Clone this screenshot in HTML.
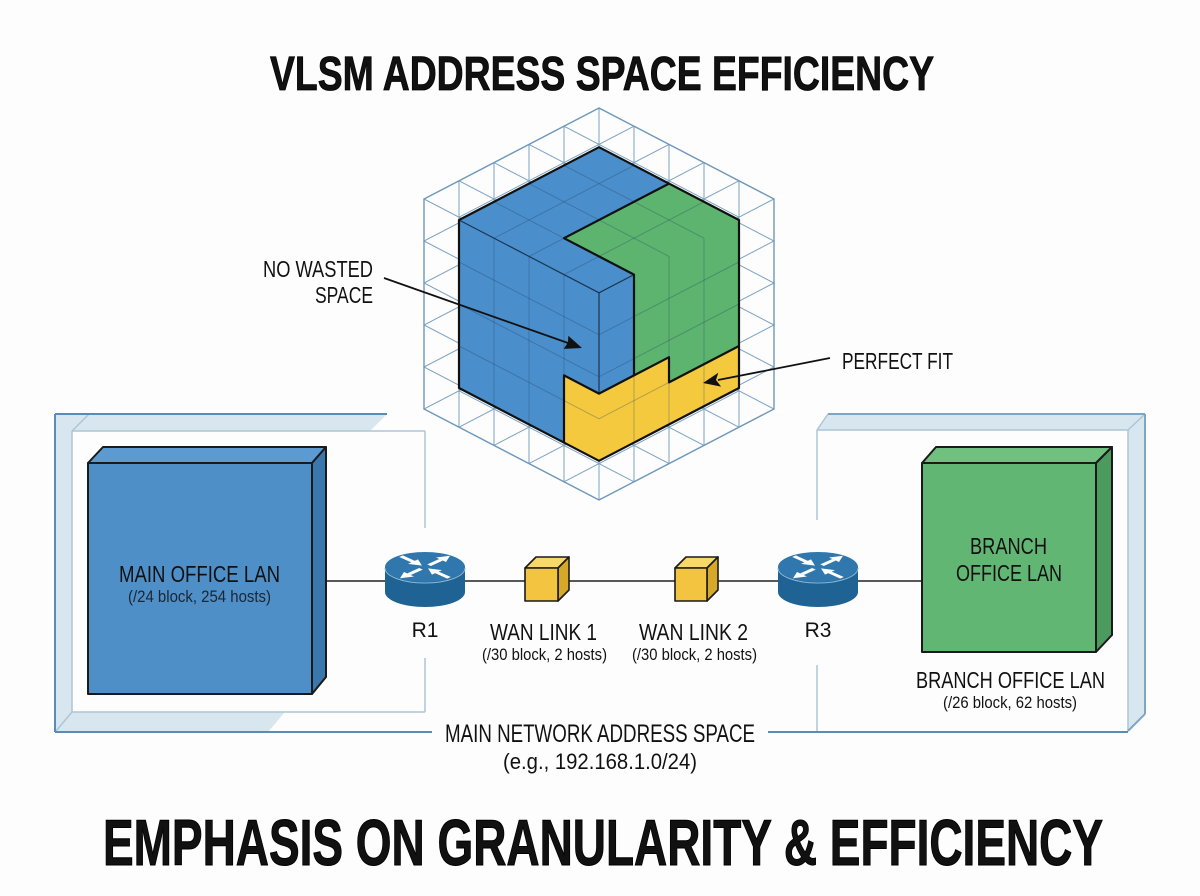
<!DOCTYPE html>
<html>
<head>
<meta charset="utf-8">
<style>
html,body{margin:0;padding:0;background:#fdfdfd;}
svg{display:block;}
text{font-family:"Liberation Sans",Arial,sans-serif;fill:#111;}
</style>
</head>
<body>
<svg width="1200" height="896" viewBox="0 0 1200 896" xmlns="http://www.w3.org/2000/svg">
<rect width="1200" height="896" fill="#fdfdfd"/>

<!-- Title -->
<text x="270" y="90" font-size="48" font-weight="bold" textLength="664" lengthAdjust="spacingAndGlyphs" stroke="#000" stroke-width="0.8">VLSM ADDRESS SPACE EFFICIENCY</text>

<!-- ===== Outer wireframe cube ===== -->
<g stroke="#7ba2c2" stroke-width="1" fill="none">
  <polygon points="599,318 774,409 599,500 424,409"/>
  <polygon points="599,276 774,367 599,458 424,367"/>
  <polygon points="599,234 774,325 599,416 424,325"/>
  <polygon points="599,192 774,283 599,374 424,283"/>
  <polygon points="599,150 774,241 599,332 424,241"/>
  <polygon points="599,108 774,199 599,290 424,199"/>
  <!-- top face grid -->
  <line x1="634" y1="126.2" x2="459" y2="217.2"/>
  <line x1="669" y1="144.4" x2="494" y2="235.4"/>
  <line x1="704" y1="162.6" x2="529" y2="253.6"/>
  <line x1="739" y1="180.8" x2="564" y2="271.8"/>
  <line x1="564" y1="126.2" x2="739" y2="217.2"/>
  <line x1="529" y1="144.4" x2="704" y2="235.4"/>
  <line x1="494" y1="162.6" x2="669" y2="253.6"/>
  <line x1="459" y1="180.8" x2="634" y2="271.8"/>
  <!-- bottom face grid -->
  <line x1="634" y1="336.2" x2="459" y2="427.2"/>
  <line x1="669" y1="354.4" x2="494" y2="445.4"/>
  <line x1="704" y1="372.6" x2="529" y2="463.6"/>
  <line x1="739" y1="390.8" x2="564" y2="481.8"/>
  <line x1="564" y1="336.2" x2="739" y2="427.2"/>
  <line x1="529" y1="354.4" x2="704" y2="445.4"/>
  <line x1="494" y1="372.6" x2="669" y2="463.6"/>
  <line x1="459" y1="390.8" x2="634" y2="481.8"/>
  <!-- verticals -->
  <line x1="599" y1="108" x2="599" y2="318"/>
  <line x1="564" y1="126.2" x2="564" y2="336.2"/>
  <line x1="529" y1="144.4" x2="529" y2="354.4"/>
  <line x1="494" y1="162.6" x2="494" y2="372.6"/>
  <line x1="459" y1="180.8" x2="459" y2="390.8"/>
  <line x1="424" y1="199" x2="424" y2="409"/>
  <line x1="774" y1="199" x2="774" y2="409"/>
  <line x1="739" y1="217.2" x2="739" y2="427.2"/>
  <line x1="704" y1="235.4" x2="704" y2="445.4"/>
  <line x1="669" y1="253.6" x2="669" y2="463.6"/>
  <line x1="634" y1="271.8" x2="634" y2="481.8"/>
  <line x1="599" y1="290" x2="599" y2="500"/>
  <line x1="634" y1="126.2" x2="634" y2="336.2"/>
  <line x1="669" y1="144.4" x2="669" y2="354.4"/>
  <line x1="704" y1="162.6" x2="704" y2="372.6"/>
  <line x1="739" y1="180.8" x2="739" y2="390.8"/>
  <line x1="459" y1="217.2" x2="459" y2="427.2"/>
  <line x1="494" y1="235.4" x2="494" y2="445.4"/>
  <line x1="529" y1="253.6" x2="529" y2="463.6"/>
  <line x1="564" y1="271.8" x2="564" y2="481.8"/>
</g>
<polygon points="599,108 774,199 774,409 599,500 424,409 424,199" fill="none" stroke="#6f98ba" stroke-width="1.4"/>

<!-- ===== Inner solid cube ===== -->
<polygon points="599,147.2 739,220 739,388 599,460.8 459,388 459,220" fill="#4a8ecb"/>
<polygon points="669,183.6 739,220 739,346 669,382.4 669,357.2 634,375.4 634,274.6 564,238.2" fill="#5db46f"/>
<polygon points="564,375.4 599,393.6 634,375.4 669,357.2 669,382.4 739,346 739,388 599,460.8 564,442.6" fill="#f5c93e"/>
<!-- inner grid -->
<g stroke="#1e3f60" stroke-opacity="0.3" stroke-width="1" fill="none">
  <line x1="634" y1="165.4" x2="494" y2="238.2"/>
  <line x1="669" y1="183.6" x2="529" y2="256.4"/>
  <line x1="704" y1="201.8" x2="564" y2="274.6"/>
  <line x1="564" y1="165.4" x2="704" y2="238.2"/>
  <line x1="529" y1="183.6" x2="669" y2="256.4"/>
  <line x1="494" y1="201.8" x2="634" y2="274.6"/>
  <line x1="704" y1="238.2" x2="704" y2="406.2"/>
  <line x1="669" y1="256.4" x2="669" y2="424.4"/>
  <line x1="634" y1="274.6" x2="634" y2="442.6"/>
  <line x1="739" y1="346" x2="599" y2="418.8"/>
  <line x1="739" y1="304" x2="599" y2="376.8"/>
  <line x1="739" y1="262" x2="599" y2="334.8"/>
  <line x1="494" y1="238.2" x2="494" y2="406.2"/>
  <line x1="529" y1="256.4" x2="529" y2="424.4"/>
  <line x1="564" y1="274.6" x2="564" y2="442.6"/>
  <line x1="459" y1="346" x2="599" y2="418.8"/>
  <line x1="459" y1="304" x2="599" y2="376.8"/>
  <line x1="459" y1="262" x2="599" y2="334.8"/>
</g>
<!-- thin edges -->
<g stroke="#1a3550" stroke-width="1.2" fill="none">
  <polyline points="459,220 599,292.8 634,274.6"/>
  <line x1="599" y1="292.8" x2="599" y2="393.6"/>
</g>
<!-- thick outlines -->
<g stroke="#111" stroke-width="2.2" fill="none" stroke-linejoin="round">
  <polygon points="599,147.2 739,220 739,388 599,460.8 459,388 459,220"/>
  <polyline points="669,183.6 564,238.2 634,274.6 634,375.4"/>
  <polyline points="564,442.6 564,375.4 599,393.6 634,375.4 669,357.2 669,382.4 739,346"/>
</g>

<!-- Callouts -->
<text x="263" y="277" font-size="23" textLength="110" lengthAdjust="spacingAndGlyphs">NO WASTED</text>
<text x="315" y="303" font-size="23" textLength="58" lengthAdjust="spacingAndGlyphs">SPACE</text>
<line x1="384" y1="278" x2="568" y2="343" stroke="#111" stroke-width="1.8"/>
<polygon points="582,348 563.7,348.9 568,342.5 568.3,335.7" fill="#111"/>

<text x="842" y="369" font-size="23" textLength="111" lengthAdjust="spacingAndGlyphs">PERFECT FIT</text>
<line x1="830" y1="358" x2="718" y2="380" stroke="#111" stroke-width="1.8"/>
<polygon points="703,383 718.3,372.8 716,380 721.1,386.6" fill="#111"/>

<!-- ===== Left frame ===== -->
<polygon points="55,414 387,414 370,431 72,431 72,712 285,712 268,732 55,732" fill="#d8e6f0"/>
<g stroke="#aec5d6" stroke-width="1.5" fill="none">
  <line x1="72" y1="431" x2="425" y2="431"/>
  <line x1="72" y1="431" x2="72" y2="712"/>
  <line x1="72" y1="712" x2="425" y2="712"/>
  <line x1="425" y1="431" x2="425" y2="528"/>
  <line x1="425" y1="658" x2="425" y2="712"/>
  <line x1="72" y1="431" x2="89" y2="414"/>
  <line x1="72" y1="712" x2="56" y2="731"/>
</g>
<g stroke="#5a8db5" stroke-width="2" fill="none">
  <line x1="55" y1="414" x2="387" y2="414"/>
  <line x1="55" y1="414" x2="55" y2="732"/>
  <line x1="55" y1="732" x2="432" y2="732"/>
  <line x1="768" y1="732" x2="1128" y2="732"/>
</g>

<!-- ===== Right frame ===== -->
<polygon points="817,430 828,414 1145,414 1128,430" fill="#d8e6f0"/>
<polygon points="1128,430 1145,414 1145,714 1128,731" fill="#d8e6f0"/>
<g stroke="#aec5d6" stroke-width="1.5" fill="none">
  <line x1="817" y1="430" x2="1128" y2="430"/>
  <line x1="1128" y1="430" x2="1128" y2="731"/>
  <line x1="817" y1="430" x2="817" y2="520"/>
  <line x1="817" y1="665" x2="817" y2="731"/>
  <line x1="817" y1="430" x2="828" y2="414"/>
  <line x1="1128" y1="430" x2="1145" y2="414"/>
</g>
<g stroke="#7ea5c4" stroke-width="2" fill="none">
  <line x1="828" y1="414" x2="1145" y2="414"/>
  <line x1="1145" y1="414" x2="1145" y2="714"/>
  <line x1="1128" y1="731" x2="1145" y2="714"/>
</g>

<!-- connector line -->
<line x1="326" y1="581" x2="922" y2="581" stroke="#222" stroke-width="1.6"/>

<!-- Main office box -->
<g stroke="#1a1a1a" stroke-width="2" stroke-linejoin="round">
  <polygon points="88,463 103,447 326,447 312,463" fill="#5c9bd1"/>
  <polygon points="312,463 326,447 326,677 312,694" fill="#3a77ad"/>
  <rect x="88" y="463" width="224" height="231" fill="#4e8fc8"/>
</g>
<text x="119" y="582" font-size="23" textLength="161" lengthAdjust="spacingAndGlyphs">MAIN OFFICE LAN</text>
<text x="128" y="602" font-size="17" textLength="143" lengthAdjust="spacingAndGlyphs" style="fill:#1a2633">(/24 block, 254 hosts)</text>

<!-- Branch box -->
<g stroke="#1a1a1a" stroke-width="2" stroke-linejoin="round">
  <polygon points="922,463 936,447 1112,447 1096,463" fill="#70c080"/>
  <polygon points="1096,463 1112,447 1112,635 1096,652" fill="#4b9a5e"/>
  <rect x="922" y="463" width="174" height="189" fill="#62b674"/>
</g>
<text x="970" y="554" font-size="23" textLength="77" lengthAdjust="spacingAndGlyphs">BRANCH</text>
<text x="956" y="581" font-size="23" textLength="106" lengthAdjust="spacingAndGlyphs">OFFICE LAN</text>
<text x="916" y="688" font-size="23" textLength="189" lengthAdjust="spacingAndGlyphs">BRANCH OFFICE LAN</text>
<text x="943" y="708" font-size="17" textLength="134" lengthAdjust="spacingAndGlyphs">(/26 block, 62 hosts)</text>

<!-- Routers -->
<g id="r1">
  <path d="M385,567 L385,592 A40,15 0 0 0 465,592 L465,567 Z" fill="#1f6394"/>
  <ellipse cx="425" cy="567" rx="40" ry="15" fill="#2f77ad"/>
  <path d="M385,568 A40,15 0 0 0 465,568" fill="none" stroke="#8fb8d6" stroke-width="1"/>
  <g transform="translate(425,567) scale(1,0.45)" fill="#fff" stroke="#fff">
    <line x1="-24" y1="-24" x2="-10" y2="-10" stroke-width="5"/>
    <polygon points="-3,-3 -17,-7 -7,-17" stroke="none"/>
    <line x1="4" y1="-4" x2="16" y2="-16" stroke-width="5"/>
    <polygon points="25,-25 21,-11 11,-21" stroke="none"/>
    <line x1="-4" y1="4" x2="-16" y2="16" stroke-width="5"/>
    <polygon points="-25,25 -11,21 -21,11" stroke="none"/>
    <line x1="24" y1="24" x2="10" y2="10" stroke-width="5"/>
    <polygon points="3,3 17,7 7,17" stroke="none"/>
  </g>
</g>
<g>
  <path d="M778,567 L778,592 A40,15 0 0 0 858,592 L858,567 Z" fill="#1f6394"/>
  <ellipse cx="818" cy="567" rx="40" ry="15" fill="#2f77ad"/>
  <path d="M778,568 A40,15 0 0 0 858,568" fill="none" stroke="#8fb8d6" stroke-width="1"/>
  <g transform="translate(818,567) scale(1,0.45)" fill="#fff" stroke="#fff">
    <line x1="-24" y1="-24" x2="-10" y2="-10" stroke-width="5"/>
    <polygon points="-3,-3 -17,-7 -7,-17" stroke="none"/>
    <line x1="4" y1="-4" x2="16" y2="-16" stroke-width="5"/>
    <polygon points="25,-25 21,-11 11,-21" stroke="none"/>
    <line x1="-4" y1="4" x2="-16" y2="16" stroke-width="5"/>
    <polygon points="-25,25 -11,21 -21,11" stroke="none"/>
    <line x1="24" y1="24" x2="10" y2="10" stroke-width="5"/>
    <polygon points="3,3 17,7 7,17" stroke="none"/>
  </g>
</g>
<text x="425" y="637" font-size="21" text-anchor="middle">R1</text>
<text x="818" y="637" font-size="21" text-anchor="middle">R3</text>

<!-- WAN cubes -->
<g stroke="#1a1a1a" stroke-width="1.6" stroke-linejoin="round">
  <polygon points="525,568 536,557 569,557 558,568" fill="#f8d866"/>
  <polygon points="558,568 569,557 569,590 558,601" fill="#d6a82a"/>
  <rect x="525" y="568" width="33" height="33" fill="#f3c43f"/>
  <polygon points="675,568 686,557 718,557 707,568" fill="#f8d866"/>
  <polygon points="707,568 718,557 718,590 707,601" fill="#d6a82a"/>
  <rect x="675" y="568" width="32" height="33" fill="#f3c43f"/>
</g>
<text x="490" y="640" font-size="23" textLength="107" lengthAdjust="spacingAndGlyphs">WAN LINK 1</text>
<text x="482" y="660" font-size="17" textLength="125" lengthAdjust="spacingAndGlyphs">(/30 block, 2 hosts)</text>
<text x="639" y="640" font-size="23" textLength="109" lengthAdjust="spacingAndGlyphs">WAN LINK 2</text>
<text x="632" y="660" font-size="17" textLength="125" lengthAdjust="spacingAndGlyphs">(/30 block, 2 hosts)</text>

<!-- Main network label -->
<text x="445" y="742" font-size="25" textLength="310" lengthAdjust="spacingAndGlyphs">MAIN NETWORK ADDRESS SPACE</text>
<text x="503" y="769" font-size="22" textLength="194" lengthAdjust="spacingAndGlyphs">(e.g., 192.168.1.0/24)</text>

<!-- Bottom heading -->
<text x="103" y="865" font-size="65" font-weight="bold" textLength="1000" lengthAdjust="spacingAndGlyphs" stroke="#000" stroke-width="1">EMPHASIS ON GRANULARITY &amp; EFFICIENCY</text>
</svg>
</body>
</html>
